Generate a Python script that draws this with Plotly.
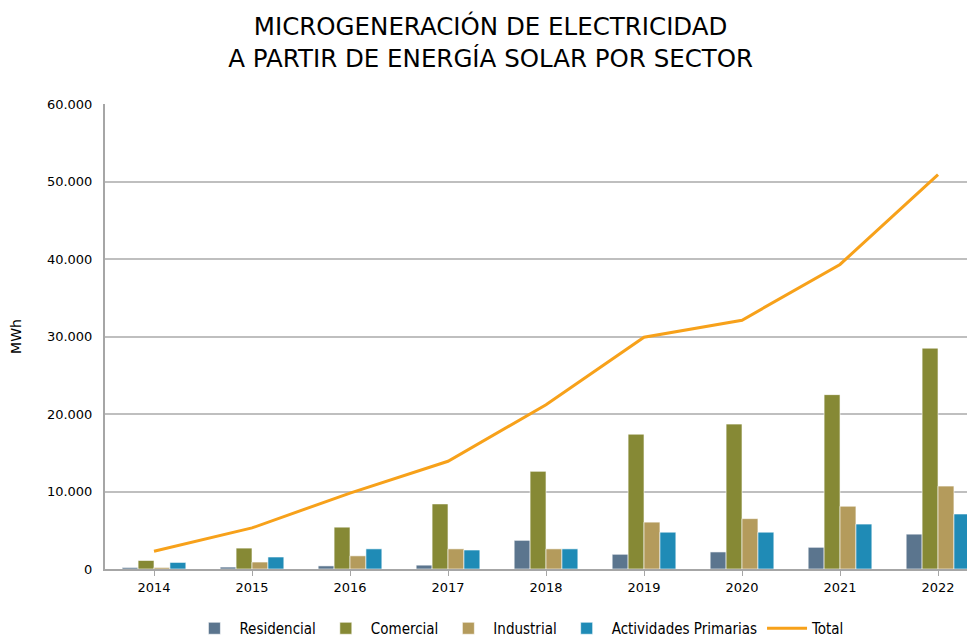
import plotly.graph_objects as go

# Data (MWh)
years = ['2014', '2015', '2016', '2017', '2018', '2019', '2020', '2021', '2022']
residencial = [200, 250, 400, 500, 3700, 1900, 2200, 2800, 4500]
comercial = [1100, 2700, 5400, 8400, 12600, 17400, 18700, 22500, 28500]
industrial = [200, 900, 1700, 2600, 2600, 6050, 6500, 8100, 10700]
actividades = [850, 1550, 2600, 2450, 2600, 4750, 4750, 5800, 7100]
total = [2300, 5300, 9800, 13900, 21200, 29900, 32100, 39300, 50900]

colors = {
    'Residencial': '#5B758E',
    'Comercial': '#868935',
    'Industrial': '#B49B5C',
    'Actividades Primarias': '#1F8BB6',
}

fig = go.Figure()
for name, vals in [('Residencial', residencial), ('Comercial', comercial),
                   ('Industrial', industrial), ('Actividades Primarias', actividades)]:
    fig.add_trace(go.Bar(
        x=years, y=vals, name=name,
        marker=dict(color=colors[name], line=dict(color='rgba(255,255,255,0.6)', width=1)),
    ))

fig.add_trace(go.Scatter(
    x=years, y=total, name='Total', mode='lines',
    line=dict(color='#F7A11A', width=3),
))

# the page body adds an 8px offset, margins are set with that in mind
fig.update_layout(
    width=975, height=637,
    paper_bgcolor='white', plot_bgcolor='white',
    font=dict(family='DejaVu Sans', size=13, color='#000000'),
    title=dict(
        text='MICROGENERACIÓN DE ELECTRICIDAD<br>A PARTIR DE ENERGÍA SOLAR POR SECTOR',
        x=0.495, xanchor='center', y=0.958, yanchor='top',
        font=dict(family='DejaVu Sans', size=24.5, color='#000000'),
    ),
    barmode='group', bargap=0.35, bargroupgap=0,
    margin=dict(l=97, r=0, t=96, b=75),
    legend=dict(
        orientation='h', x=0.472, xanchor='center', y=-0.092, yanchor='top',
        font=dict(family='DejaVu Sans Condensed, DejaVu Sans', size=15),
        itemwidth=40, tracegroupgap=0,
    ),
    showlegend=True,
)

fig.update_xaxes(
    type='category', range=[-0.5, 8.459], automargin=False,
    showline=True, linecolor='#A6A6A6', linewidth=2,
    ticks='outside', ticklen=5, tickcolor='#A6A6A6',
    tickfont=dict(size=13), showgrid=False,
)
fig.update_yaxes(
    range=[0, 60000], dtick=10000, tickformat=',.0f', automargin=False,
    showline=True, linecolor='#A6A6A6', linewidth=2,
    showgrid=True, gridcolor='#BFBFBF', gridwidth=2,
    tickfont=dict(size=13), ticks='', ticklabelstandoff=8,
    title=dict(text='MWh', font=dict(size=14), standoff=22),
    zeroline=False,
)
fig.update_layout(separators=',.')

fig.write_html('out.html')
